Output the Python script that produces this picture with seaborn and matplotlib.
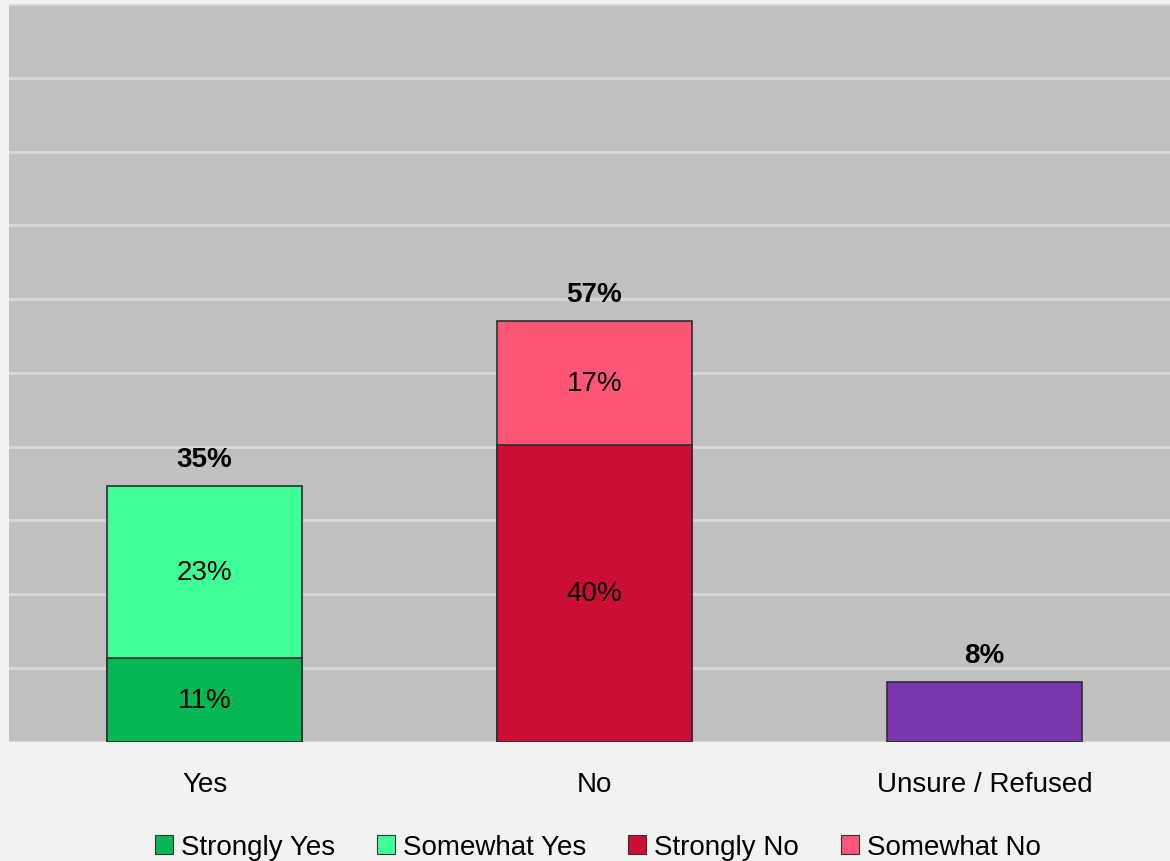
import matplotlib
matplotlib.use("Agg")
import numpy as np
import pandas as pd
import matplotlib.pyplot as plt
import seaborn as sns
from matplotlib.patches import Patch

# data (percent)
categories = ["Yes", "No", "Unsure / Refused"]
strongly = [11.4, 40.2, 0.0]
somewhat = [23.3, 16.8, 0.0]
unsure = [0.0, 0.0, 8.1]
legend_labels = ["Strongly Yes", "Somewhat Yes", "Strongly No", "Somewhat No"]

c_strong_yes = "#05B853"
c_some_yes = "#3EFF96"
c_strong_no = "#CC0E36"
c_some_no = "#FF5577"
c_unsure = "#7A36AE"

totals = [s + w + u for s, w, u in zip(strongly, somewhat, unsure)]
df_top = pd.DataFrame({"cat": categories, "val": totals})
df_bot = pd.DataFrame({"cat": categories, "val": strongly})

sns.set_style("white")
plt.rcParams["font.family"] = ["Liberation Sans", "DejaVu Sans"]
plt.rcParams["text.color"] = "black"
plt.rcParams["xtick.color"] = "black"

fig = plt.figure(figsize=(11.7, 8.62), dpi=100, facecolor="#F2F2F2")
ax = fig.add_axes([0.0081, 0.1385, 1.0, 0.8555])
ax.set_facecolor("#C0C0C0")

# stacked: draw totals first, then the bottom segment over them
sns.barplot(data=df_top, x="cat", y="val", hue="cat", palette=[c_some_yes, c_some_no, c_unsure],
            width=0.5, saturation=1, legend=False, ax=ax, edgecolor="#2e2e2e", linewidth=1.2, zorder=3)
sns.barplot(data=df_bot, x="cat", y="val", hue="cat", palette=[c_strong_yes, c_strong_no, c_unsure],
            width=0.5, saturation=1, legend=False, ax=ax, edgecolor="#2e2e2e", linewidth=1.2, zorder=4)

ax.set_ylim(0, 100)
ax.set_xlim(-0.5, 2.5)
ax.set_yticks(np.arange(0, 101, 10))
ax.set_yticklabels([])
ax.yaxis.grid(True, color="#D9D9D9", linewidth=2, zorder=0)
ax.set_axisbelow(True)
ax.tick_params(axis="both", length=0)
ax.tick_params(axis="x", labelsize=20, pad=21.5)
ax.set_xlabel("")
ax.set_ylabel("")
for s in ax.spines.values():
    s.set_visible(False)

# segment labels
for i in range(len(categories)):
    if strongly[i] > 0:
        ax.text(i, strongly[i] / 2, f"{strongly[i]:.0f}%", ha="center", va="center", fontsize=20, zorder=6)
    if somewhat[i] > 0:
        ax.text(i, strongly[i] + somewhat[i] / 2, f"{somewhat[i]:.0f}%", ha="center", va="center",
                fontsize=20, zorder=6)
    ax.annotate(f"{totals[i]:.0f}%", (i, totals[i]), xytext=(0, 19.5), textcoords="offset points",
                ha="center", va="center", fontsize=20, fontweight="bold", zorder=6)

handles = [Patch(facecolor=c, edgecolor="#333333", linewidth=0.8)
           for c in [c_strong_yes, c_some_yes, c_strong_no, c_some_no]]
fig.legend(handles, legend_labels, loc="lower center", bbox_to_anchor=(0.511, -0.028), ncol=4,
           frameon=False, fontsize=20, handlelength=0.65, handleheight=0.65, handletextpad=0.3,
           columnspacing=1.5)

fig.savefig("out.png", dpi=100, facecolor=fig.get_facecolor())
